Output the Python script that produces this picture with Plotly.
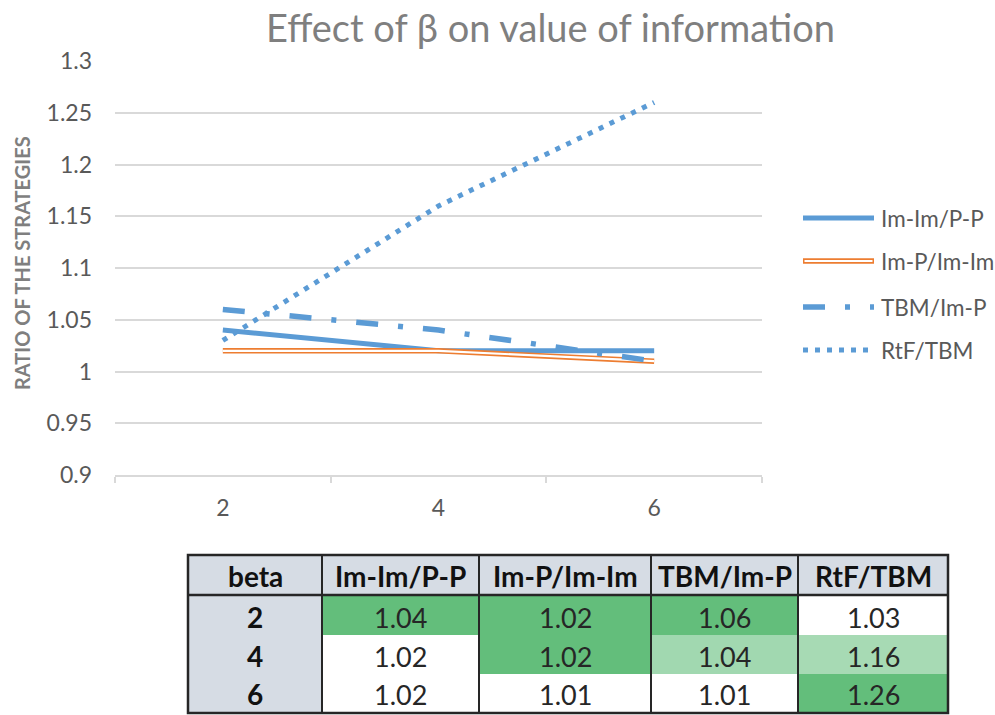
import plotly.graph_objects as go

W, H = 995, 715

# ---------------- data ----------------
beta = ['2', '4', '6']
series_names = ['Im-Im/P-P', 'Im-P/Im-Im', 'TBM/Im-P', 'RtF/TBM']
im_im_pp = [1.04, 1.02, 1.02]
im_p_im_im = [1.02, 1.02, 1.01]
tbm_im_p = [1.06, 1.04, 1.01]
rtf_tbm = [1.03, 1.16, 1.26]
y_tickvals = [0.9, 0.95, 1.0, 1.05, 1.1, 1.15, 1.2, 1.25, 1.3]
y_ticktext = ['0.9', '0.95', '1', '1.05', '1.1', '1.15', '1.2', '1.25', '1.3']
title_text = 'Effect of β on value of information'
y_title = 'RATIO OF THE STRATEGIES'
table_header = ['beta'] + series_names

series_values = [im_im_pp, im_p_im_im, tbm_im_p, rtf_tbm]

# ---------------- styles ----------------
BLUE = '#5B9BD5'
ORANGE = '#ED7D31'
FONT = "Lato, 'Open Sans', sans-serif"
TICK_COLOR = '#595959'
GRID = '#D9D9D9'


def px(x):
    return x / W


def py(y):
    return 1 - y / H


fig = go.Figure()

# series lines
styles = [
    dict(color=BLUE, width=5, dash='solid'),
    dict(color=ORANGE, width=5.5, dash='solid'),
    dict(color=BLUE, width=5.5, dash='22px,20px,5px,20px'),
    dict(color=BLUE, width=5, dash='5px,7px'),
]
for i, (name, vals) in enumerate(zip(series_names, series_values)):
    fig.add_trace(go.Scatter(x=beta, y=vals, mode='lines', name=name,
                             line=styles[i], showlegend=False,
                             hoverinfo='x+y+name'))
    if i == 1:
        fig.add_trace(go.Scatter(x=beta, y=vals, mode='lines', name=name,
                                 line=dict(color='white', width=2.2),
                                 showlegend=False, hoverinfo='skip'))

shapes = []
annotations = []

# ---------------- legend (drawn manually) ----------------
leg_y = [218, 261, 307, 350]
for i, name in enumerate(series_names):
    y0 = py(leg_y[i])
    st = styles[i]
    shapes.append(dict(type='line', xref='paper', yref='paper',
                       x0=px(803), x1=px(874), y0=y0, y1=y0,
                       line=dict(color=st['color'], width=st['width'],
                                 dash=st['dash'])))
    if i == 1:
        shapes.append(dict(type='line', xref='paper', yref='paper',
                           x0=px(804.5), x1=px(872.5), y0=y0, y1=y0,
                           line=dict(color='white', width=2.2)))
    annotations.append(dict(text=name, xref='paper', yref='paper',
                            x=px(879), y=y0, xanchor='left', yanchor='middle',
                            showarrow=False,
                            font=dict(family=FONT, size=22.5, color=TICK_COLOR)))

# ---------------- title and axis title ----------------
annotations.append(dict(text=title_text, xref='paper', yref='paper',
                        x=px(550), y=py(27), xanchor='center', yanchor='middle',
                        showarrow=False,
                        font=dict(family=FONT, size=38, color='#7F7F7F')))
annotations.append(dict(text='<b>' + y_title + '</b>', xref='paper', yref='paper',
                        x=px(22), y=py(263), xanchor='center', yanchor='middle',
                        textangle=-90, showarrow=False,
                        font=dict(family=FONT, size=20, color='#7F7F7F')))

# ---------------- table (drawn manually) ----------------
col_x = [188, 322, 479, 651, 798, 948]
row_y = [555, 595, 635, 674, 713]
HEAD_FILL = '#D6DCE4'
GREEN = (99, 190, 123)
BORDER = '#262626'


def scale_color(v, vmin, vmax):
    t = 0 if vmax == vmin else (v - vmin) / (vmax - vmin)
    r = round(255 + (GREEN[0] - 255) * t)
    g = round(255 + (GREEN[1] - 255) * t)
    b = round(255 + (GREEN[2] - 255) * t)
    return f'rgb({r},{g},{b})'


def rect(x0, x1, y0, y1, fill):
    shapes.append(dict(type='rect', xref='paper', yref='paper',
                       x0=px(x0), x1=px(x1), y0=py(y1), y1=py(y0),
                       fillcolor=fill, line=dict(width=0), layer='above'))


# header row
for c in range(len(table_header)):
    rect(col_x[c], col_x[c + 1], row_y[0], row_y[1], HEAD_FILL)
    annotations.append(dict(text='<b>' + table_header[c] + '</b>', xref='paper', yref='paper',
                            x=px((col_x[c] + col_x[c + 1]) / 2), y=py(576),
                            xanchor='center', yanchor='middle', showarrow=False,
                            font=dict(family=FONT, size=28, color='#111111')))

text_y = [617, 656, 694]
for r, b in enumerate(beta):
    rect(col_x[0], col_x[1], row_y[r + 1], row_y[r + 2], HEAD_FILL)
    annotations.append(dict(text='<b>' + b + '</b>', xref='paper', yref='paper',
                            x=px((col_x[0] + col_x[1]) / 2), y=py(text_y[r]),
                            xanchor='center', yanchor='middle', showarrow=False,
                            font=dict(family=FONT, size=28, color='#111111')))
    for c, vals in enumerate(series_values):
        fill = scale_color(vals[r], min(vals), max(vals))
        rect(col_x[c + 1], col_x[c + 2], row_y[r + 1], row_y[r + 2], fill)
        annotations.append(dict(text=f'{vals[r]:.2f}', xref='paper', yref='paper',
                                x=px((col_x[c + 1] + col_x[c + 2]) / 2), y=py(text_y[r]),
                                xanchor='center', yanchor='middle', showarrow=False,
                                font=dict(family=FONT, size=27, color='#262626')))

# borders
for xv in col_x[1:-1]:
    shapes.append(dict(type='line', xref='paper', yref='paper',
                       x0=px(xv), x1=px(xv), y0=py(row_y[0]), y1=py(row_y[-1]),
                       line=dict(color=BORDER, width=2), layer='above'))
shapes.append(dict(type='line', xref='paper', yref='paper',
                   x0=px(col_x[0]), x1=px(col_x[-1]), y0=py(row_y[1]), y1=py(row_y[1]),
                   line=dict(color=BORDER, width=2.5), layer='above'))
shapes.append(dict(type='rect', xref='paper', yref='paper',
                   x0=px(col_x[0]), x1=px(col_x[-1]), y0=py(row_y[-1]), y1=py(row_y[0]),
                   line=dict(color=BORDER, width=2.5), fillcolor='rgba(0,0,0,0)',
                   layer='above'))

fig.update_layout(
    width=W, height=H,
    margin=dict(l=0, r=0, t=0, b=0, pad=0, autoexpand=False),
    paper_bgcolor='white', plot_bgcolor='white',
    showlegend=False,
    shapes=shapes,
    annotations=annotations,
    xaxis=dict(domain=[px(115), px(762)], type='category',
               categoryorder='array', categoryarray=beta,
               range=[-0.5, 2.5], autorange=False,
               tickson='boundaries', ticks='outside', ticklen=6,
               tickcolor=GRID, tickwidth=1.5,
               showline=True, linecolor=GRID, linewidth=1.5,
               showgrid=False, zeroline=False, automargin=False,
               ticklabelstandoff=12,
               tickfont=dict(family=FONT, size=23, color=TICK_COLOR)),
    yaxis=dict(domain=[py(475), py(61)], range=[0.9, 1.3], autorange=False,
               tickvals=y_tickvals, ticktext=y_ticktext,
               showgrid=True, gridcolor=GRID, gridwidth=1.5,
               zeroline=False, showline=False, ticks='', automargin=False,
               ticklabelstandoff=22,
               tickfont=dict(family=FONT, size=23, color=TICK_COLOR)),
)

fig.write_html('out.html',
               post_script="document.body.style.margin='0';document.body.style.padding='0';")
